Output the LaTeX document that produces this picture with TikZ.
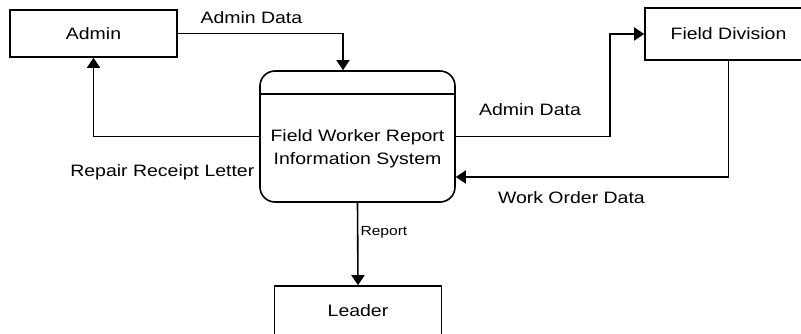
\documentclass[tikz,border=0pt]{standalone}
\usepackage{fontspec}
\setmainfont{Liberation Sans}[FakeStretch=1.18]
\usetikzlibrary{arrows.meta}

\begin{document}
\begin{tikzpicture}[x=1pt, y=-1pt,
  font=\fontsize{16.5}{23}\selectfont,
  entity/.style={draw, line width=1.6pt, minimum width=167pt, minimum height=47pt, inner sep=0pt},
  process/.style={draw, line width=1.6pt, rounded corners=15pt, minimum width=195pt, minimum height=131pt},
  flow/.style={-{Triangle[length=10pt, width=13pt]}, line width=1.6pt},
  tag/.style={inner sep=2pt},
]
\useasboundingbox (0,0) rectangle (801,334);

% external entities
\node[entity] (admin) at (93.5,33.5) {Admin};
\node[entity, minimum height=52pt] (field) at (728.5,34) {Field Division};
\node[entity, minimum height=49pt] (leader) at (358,310.5) {Leader};

% the process, with its header strip
\node[process] (proc) at (357.5,136.5) {};
\draw[line width=1.6pt] ([yshift=-24pt]proc.north west) -- ([yshift=-24pt]proc.north east);
\node[align=center] (procname) at (357.5,148.5) {Field Worker Report\\Information System};

% data flows
\draw[flow] (admin.east) -| ([xshift=-14.5pt]proc.north)
  node[pos=0.25, tag, xshift=-9pt, yshift=15.5pt] {Admin Data};
\draw[flow] (proc.west) -| (admin.south)
  node[pos=0.25, tag, xshift=-14pt, yshift=-35.5pt] {Repair Receipt Letter};
\draw[flow] (proc.east) -| ([xshift=-34pt]field.west)
  node[pos=0.25, tag, xshift=-3pt, yshift=26.5pt] {Admin Data} -- (field.west);
\draw[flow] (field.south) |- ([yshift=-40.5pt]proc.east)
  node[pos=0.75, tag, xshift=-20.75pt, yshift=-21pt] {Work Order Data};
\draw[flow] (proc.south) -- (leader.north)
  node[midway, right, tag, yshift=12pt, font=\fontsize{13.2}{16}\selectfont] {Report};
\end{tikzpicture}
\end{document}
